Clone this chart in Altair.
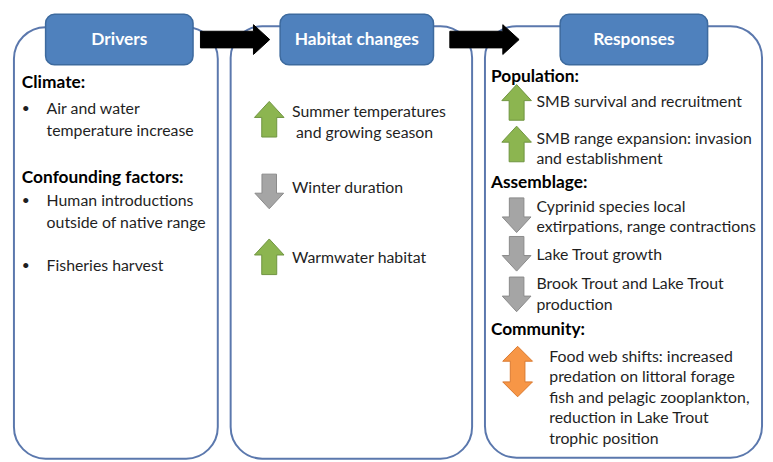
import altair as alt
import pandas as pd

# ---------------- content ----------------
headers = ["Drivers", "Habitat changes", "Responses"]

drivers_headings = ["Climate:", "Confounding factors:"]
drivers_lines = ["Air and water", "temperature increase",
                 "Human introductions", "outside of native range",
                 "Fisheries harvest"]

habitat_lines = ["Summer temperatures", "and growing season",
                 "Winter duration", "Warmwater habitat"]
habitat_arrows = ["up", "down", "up"]

responses_headings = ["Population:", "Assemblage:", "Community:"]
responses_lines = ["SMB survival and recruitment",
                   "SMB range expansion: invasion", "and establishment",
                   "Cyprinid species local", "extirpations, range contractions",
                   "Lake Trout growth",
                   "Brook Trout and Lake Trout", "production",
                   "Food web shifts: increased", "predation on littoral forage",
                   "fish and pelagic zooplankton,", "reduction in Lake Trout",
                   "trophic position"]
responses_arrows = ["up", "up", "down", "down", "down", "both"]

# ---------------- layout (pixel positions of the diagram) ----------------
panel_x = [14, 233, 490]
panel_x2 = [220, 477, 770]
panel_y = [25, 24, 24]
panel_y2 = [461, 461, 460]

header_x = [46, 283, 566]
header_x2 = [195, 438, 715]
header_y, header_y2 = 12, 63

flow_x = [237.5, 489.5]
flow_y = 37.5

drivers_head_y = [81, 177]
drivers_line_x = [47, 47, 47, 47, 47]
drivers_line_y = [108, 130, 201, 223, 266]
bullet_y = [108, 201, 266]

habitat_line_x = [295, 299, 295, 295]
habitat_line_y = [111, 132, 188, 258]
habitat_arrow_x = [272, 272, 272]
habitat_arrow_y = [118, 191, 257]

resp_head_y = [75, 183, 331]
resp_line_x = [542] * 8 + [555] * 5
resp_line_y = [101, 138, 158, 207, 227, 255, 285, 306, 358, 379, 400, 420, 441]
resp_arrow_x = [522, 522, 522, 522, 522, 523]
resp_arrow_y = [101, 143, 215, 254, 295, 373]

# ---------------- shapes ----------------
UP = "M0,-1L0.83,-0.1L0.42,-0.1L0.42,1L-0.42,1L-0.42,-0.1L-0.83,-0.1Z"
DOWN = "M0,1L0.83,0.1L0.42,0.1L0.42,-1L-0.42,-1L-0.42,0.1L-0.83,0.1Z"
BOTH = "M0,-1L0.59,-0.41L0.29,-0.41L0.29,0.41L0.59,0.41L0,1L-0.59,0.41L-0.29,0.41L-0.29,-0.41L-0.59,-0.41Z"
FLOW = "M-1,-0.24L0.53,-0.24L0.53,-0.43L1,0L0.53,0.43L0.53,0.24L-1,0.24Z"

FONT = "Lato"
TXT = "#1f1f1f"

X = lambda f="x": alt.X(f"{f}:Q", scale=alt.Scale(domain=[8, 773], nice=False, zero=False), axis=None)
Y = lambda f="y": alt.Y(f"{f}:Q", scale=alt.Scale(domain=[8, 462], nice=False, zero=False, reverse=True), axis=None)

panels = pd.DataFrame({"x": panel_x, "x2": panel_x2, "y": panel_y, "y2": panel_y2})
panel_layer = alt.Chart(panels).mark_rect(
    cornerRadius=32, fill="white", stroke="#5b78ad", strokeWidth=2
).encode(x=X(), x2="x2:Q", y=Y(), y2="y2:Q")

flows = pd.DataFrame({"x": flow_x, "y": [flow_y] * 2})
flow_layer = alt.Chart(flows).mark_point(
    shape=FLOW, filled=True, fill="black", stroke="black", strokeWidth=1,
    size=70 ** 2, opacity=1
).encode(x=X(), y=Y())

hdr = pd.DataFrame({"x": header_x, "x2": header_x2, "y": [header_y] * 3,
                    "y2": [header_y2] * 3, "label": headers,
                    "cx": [(a + b) / 2 for a, b in zip(header_x, header_x2)],
                    "cy": [(header_y + header_y2) / 2] * 3})
hdr_rect = alt.Chart(hdr).mark_rect(
    cornerRadius=9, fill="#4f81bd", stroke="#3d6a9e", strokeWidth=1.5
).encode(x=X(), x2="x2:Q", y=Y(), y2="y2:Q")
hdr_text = alt.Chart(hdr).mark_text(
    font=FONT, fontSize=17.5, color="white", fontWeight="bold", align="center", baseline="middle"
).encode(x=X("cx"), y=Y("cy"), text="label:N")

bold_df = pd.DataFrame({
    "x": [22, 22, 496, 496, 496],
    "y": drivers_head_y + resp_head_y,
    "t": drivers_headings + responses_headings})
bold_layer = alt.Chart(bold_df).mark_text(
    font=FONT, fontSize=17.5, fontWeight="bold", color="black", align="left", baseline="middle"
).encode(x=X(), y=Y(), text="t:N")

norm_df = pd.DataFrame({
    "x": drivers_line_x + habitat_line_x + resp_line_x,
    "y": drivers_line_y + habitat_line_y + resp_line_y,
    "t": drivers_lines + habitat_lines + responses_lines})
norm_layer = alt.Chart(norm_df).mark_text(
    font=FONT, fontSize=16, color=TXT, align="left", baseline="middle"
).encode(x=X(), y=Y(), text="t:N")

bul_df = pd.DataFrame({"x": [26] * 3, "y": bullet_y, "t": ["•"] * 3})
bul_layer = alt.Chart(bul_df).mark_text(
    font=FONT, fontSize=14, color=TXT, align="center", baseline="middle"
).encode(x=X(), y=Y(), text="t:N")

arr = pd.DataFrame({
    "x": habitat_arrow_x + resp_arrow_x,
    "y": habitat_arrow_y + resp_arrow_y,
    "kind": habitat_arrows + responses_arrows})

def arrow_layer(kind, shape, fill, stroke, size):
    return alt.Chart(arr).transform_filter(alt.datum.kind == kind).mark_point(
        shape=shape, filled=True, fill=fill, stroke=stroke, strokeWidth=1,
        size=size, opacity=1
    ).encode(x=X(), y=Y())

up_layer = arrow_layer("up", UP, "#8cb550", "#6f9440", 36 ** 2)
down_layer = arrow_layer("down", DOWN, "#a5a5a5", "#8a8a8a", 35 ** 2)
both_layer = arrow_layer("both", BOTH, "#f79646", "#d9782f", 51 ** 2)

chart = alt.layer(
    panel_layer, flow_layer, hdr_rect, hdr_text, bold_layer, norm_layer,
    bul_layer, up_layer, down_layer, both_layer
).properties(
    width=765, height=454, padding=0, background="white",
    autosize=alt.AutoSizeParams(type="none")
).configure_view(stroke=None)

chart.save("out.html", embed_options={"renderer": "svg", "actions": False})
